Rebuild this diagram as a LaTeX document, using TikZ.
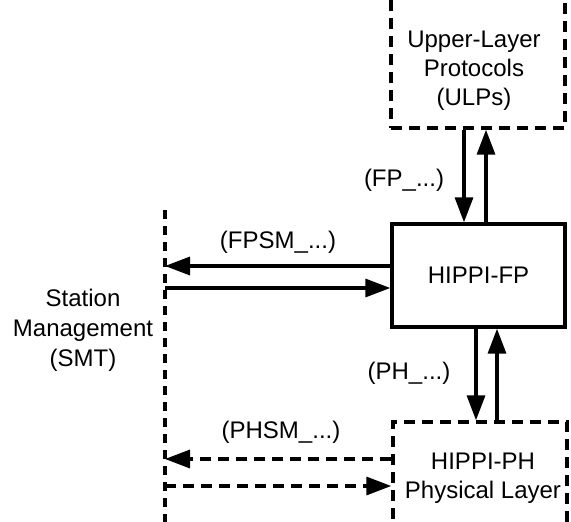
\documentclass[tikz,border=0pt]{standalone}
\usepackage{fontspec}
\setmainfont{Liberation Sans}
\usetikzlibrary{arrows.meta}
\begin{document}
\begin{tikzpicture}[x=1pt,y=-1pt,
  lw/.style={line width=3.4pt},
  dsh/.style={lw,dash pattern=on 11pt off 7pt},
  arr/.style={lw,-{Triangle[length=25pt,width=18pt]}},
  darr/.style={arr,dash pattern=on 11pt off 7pt},
  lbl/.style={font=\fontsize{24}{29}\selectfont,inner sep=0pt,align=center}]
\useasboundingbox (0,0) rectangle (571,522);
\clip (0,0) rectangle (571,522);
% boxes
\node[draw,dsh,minimum width=174pt,minimum height=160pt,inner sep=0pt] (ulp) at (478,48) {};
\node[lbl] (ulptext) at (474,71) {Upper-Layer\\Protocols\\(ULPs)};
\node[draw,lw,minimum width=173pt,minimum height=103pt,lbl] (fp) at (478.5,275.5) {HIPPI-FP};
\node[draw,dsh,minimum width=174pt,minimum height=160pt,inner sep=0pt] (ph) at (480,502) {};
\node[lbl] (phtext) at (483,478) {HIPPI-PH\\Physical Layer};
\node[lbl,font=\fontsize{24}{30}\selectfont] (smttext) at (83,330) {Station\\Management\\(SMT)};
% SMT line
\coordinate (smt) at (165,210);
\coordinate (smtb) at (165,530);
\draw[lw,dash pattern=on 9pt off 7pt] (smt) -- (smtb);
% FP <-> ULP
\draw[arr] (ulp.south -| 464,0) -- (fp.north -| 464,0);
\draw[arr] (fp.north -| 486,0) -- (ulp.south -| 486,0);
\node[lbl] (fplbl) at (404,180) {(FP\_...)};
% FP <-> PH
\draw[arr] (fp.south -| 476,0) -- (ph.north -| 476,0);
\draw[arr] (ph.north -| 497,0) -- (fp.south -| 497,0);
\node[lbl] (phlbl) at (409,373) {(PH\_...)};
% FP <-> SMT
\draw[arr] (fp.west |- 0,266) -- (smt |- 0,266);
\draw[arr] (smt |- 0,288) -- (fp.west |- 0,288);
\node[lbl] (fpsmlbl) at (278,242) {(FPSM\_...)};
% PH <-> SMT
\draw[darr] (ph.west |- 0,459) -- (smt |- 0,459);
\draw[darr] (smt |- 0,486) -- (ph.west |- 0,486);
\node[lbl] (phsmlbl) at (281,432) {(PHSM\_...)};
\end{tikzpicture}
\end{document}
